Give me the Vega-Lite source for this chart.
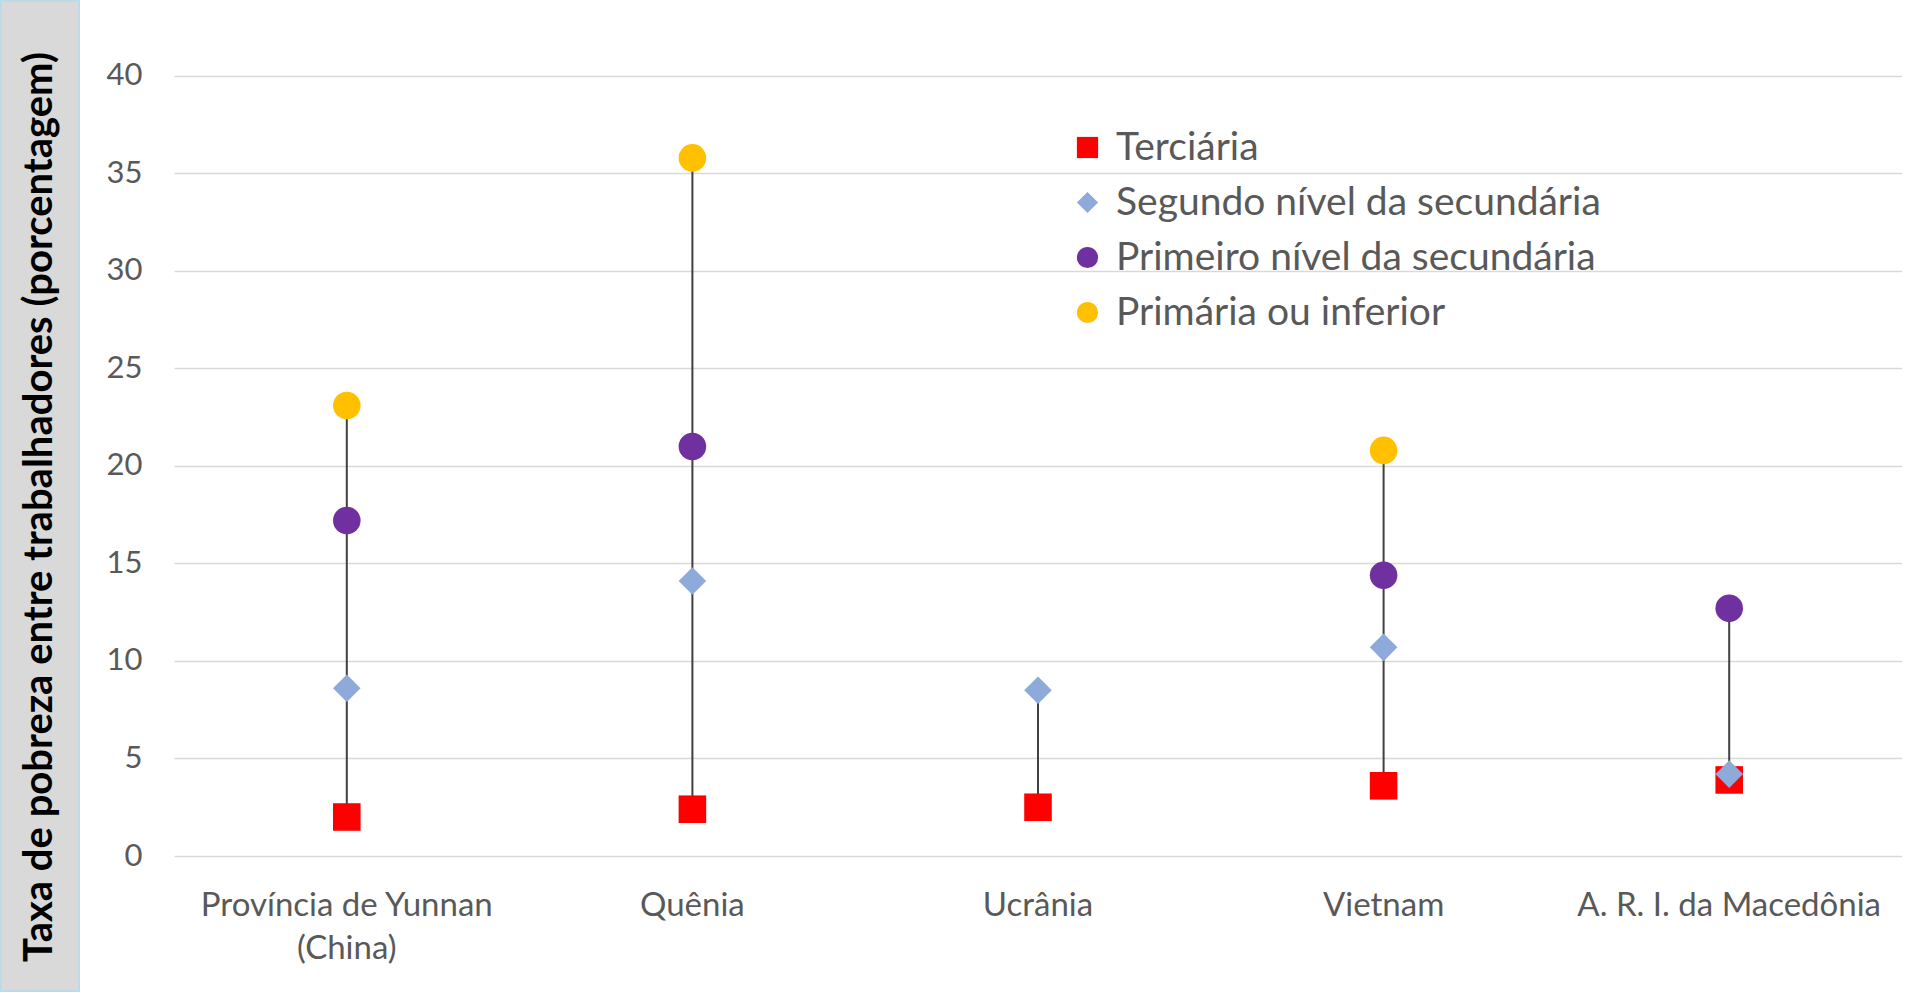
{
  "$schema": "https://vega.github.io/schema/vega-lite/v6.json",
  "background": "white",
  "padding": 0,
  "config": {"view": {"stroke": null}, "concat": {"spacing": 26}},
  "datasets": {
    "panel": [{"t": "Taxa de pobreza entre trabalhadores (porcentagem)"}],
    "rates": [
      {"pais": "Província de Yunnan (China)", "nivel": "Terciária", "valor": 2.0},
      {"pais": "Quênia", "nivel": "Terciária", "valor": 2.4},
      {"pais": "Ucrânia", "nivel": "Terciária", "valor": 2.5},
      {"pais": "Vietnam", "nivel": "Terciária", "valor": 3.6},
      {"pais": "A. R. I. da Macedônia", "nivel": "Terciária", "valor": 3.9},
      {"pais": "Província de Yunnan (China)", "nivel": "Segundo nível da secundária", "valor": 8.6},
      {"pais": "Quênia", "nivel": "Segundo nível da secundária", "valor": 14.1},
      {"pais": "Ucrânia", "nivel": "Segundo nível da secundária", "valor": 8.5},
      {"pais": "Vietnam", "nivel": "Segundo nível da secundária", "valor": 10.7},
      {"pais": "A. R. I. da Macedônia", "nivel": "Segundo nível da secundária", "valor": 4.2},
      {"pais": "Província de Yunnan (China)", "nivel": "Primeiro nível da secundária", "valor": 17.2},
      {"pais": "Quênia", "nivel": "Primeiro nível da secundária", "valor": 21.0},
      {"pais": "Vietnam", "nivel": "Primeiro nível da secundária", "valor": 14.4},
      {"pais": "A. R. I. da Macedônia", "nivel": "Primeiro nível da secundária", "valor": 12.7},
      {"pais": "Província de Yunnan (China)", "nivel": "Primária ou inferior", "valor": 23.1},
      {"pais": "Quênia", "nivel": "Primária ou inferior", "valor": 35.8},
      {"pais": "Vietnam", "nivel": "Primária ou inferior", "valor": 20.8}
    ]
  },
  "hconcat": [
    {
      "width": 78,
      "height": 990,
      "view": {"fill": "#d9d9d9", "stroke": "#b9dde6", "strokeWidth": 2},
      "data": {"name": "panel"},
      "mark": {"type": "text", "angle": 270, "font": "Lato", "fontWeight": "bold", "fontSize": 40, "color": "#000000", "dx": -11},
      "encoding": {"text": {"field": "t"}}
    },
    {
      "width": 1728,
      "height": 855,
      "data": {"name": "rates"},
      "encoding": {
        "x": {
          "field": "pais",
          "type": "nominal",
          "scale": {"domain": ["Província de Yunnan (China)", "Quênia", "Ucrânia", "Vietnam", "A. R. I. da Macedônia"], "paddingInner": 0, "paddingOuter": 0},
          "axis": {
            "title": null, "domain": false, "ticks": false, "labelAngle": 0,
            "labelFont": "Lato", "labelFontSize": 33, "labelColor": "#595959", "labelLimit": 0,
            "labelPadding": 33, "labelLineHeight": 43,
            "labelExpr": "datum.label == 'Província de Yunnan (China)' ? ['Província de Yunnan', '(China)'] : datum.label"
          }
        }
      },
      "layer": [
        {
          "mark": {"type": "rule", "color": "#404040", "strokeWidth": 2},
          "encoding": {
            "y": {"aggregate": "min", "field": "valor", "type": "quantitative", "scale": {"domain": [0, 43.846], "nice": false},
              "axis": {"title": null, "values": [0, 5, 10, 15, 20, 25, 30, 35, 40], "domain": false, "ticks": false,
                "grid": true, "gridColor": "#d9d9d9", "gridWidth": 1.5,
                "labelFont": "Lato", "labelFontSize": 31, "labelColor": "#595959", "labelPadding": 32}},
            "y2": {"aggregate": "max", "field": "valor"}
          }
        },
        {
          "mark": {"type": "point", "filled": true, "opacity": 1, "size": 760},
          "encoding": {
            "y": {"field": "valor", "type": "quantitative"},
            "color": {
              "field": "nivel", "type": "nominal",
              "scale": {"domain": ["Terciária", "Segundo nível da secundária", "Primeiro nível da secundária", "Primária ou inferior"],
                "range": ["#ff0000", "#8eaadb", "#7030a0", "#ffc000"]},
              "legend": {"orient": "none", "legendX": 1067, "legendY": 127, "title": null,
                "labelFont": "Lato", "labelFontSize": 39, "labelColor": "#595959", "labelLimit": 0,
                "symbolSize": 450, "rowPadding": 15, "labelOffset": 9, "symbolOpacity": 1, "symbolStrokeWidth": 0}
            },
            "shape": {
              "field": "nivel", "type": "nominal",
              "scale": {"domain": ["Terciária", "Segundo nível da secundária", "Primeiro nível da secundária", "Primária ou inferior"],
                "range": ["square", "diamond", "circle", "circle"]}
            }
          }
        }
      ]
    }
  ]
}
